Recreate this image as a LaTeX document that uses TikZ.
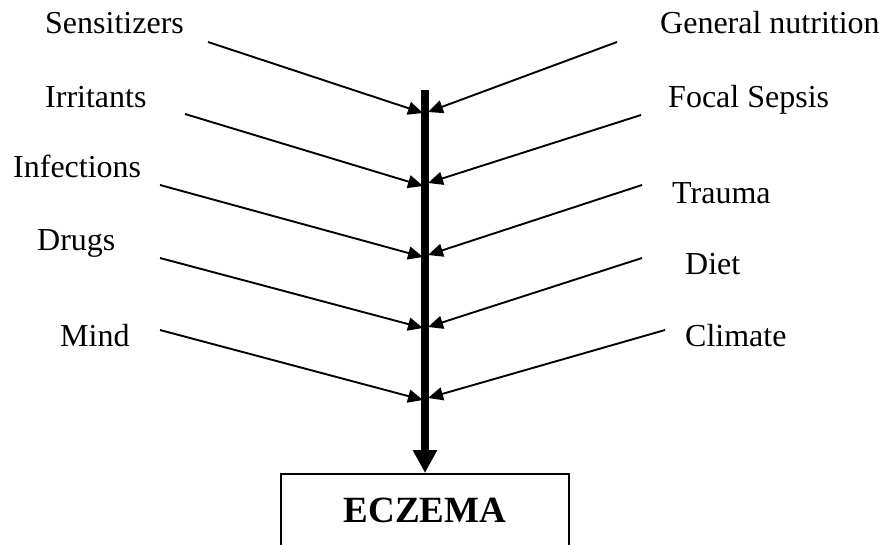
\documentclass[tikz,border=0pt]{standalone}
\usepackage{fontspec}
\setmainfont{Liberation Serif}
\usetikzlibrary{arrows.meta}
\begin{document}
\begin{tikzpicture}[x=1pt,y=-1pt,
  lbl/.style={anchor=base west,inner sep=0pt,font=\fontsize{32}{37}\selectfont},
  feed/.style={line width=1.9pt,-{Triangle[length=15pt,width=13pt]}},
  spine/.style={line width=8.5pt,-{Triangle[length=23pt,width=23pt]}},
  outbox/.style={draw,line width=1.6pt,minimum width=288pt,minimum height=74pt,inner sep=0pt,font=\fontsize{37}{42}\selectfont\bfseries}]
\useasboundingbox (0,0) rectangle (883,544);
% labels
\node[lbl] (sens) at (45,33) {Sensitizers};
\node[lbl] (irr) at (45,107) {Irritants};
\node[lbl] (inf) at (13,177) {Infections};
\node[lbl] (drug) at (37,250) {Drugs};
\node[lbl] (mind) at (60,346) {Mind};
\node[lbl] (gen) at (660,33) {General nutrition};
\node[lbl] (foc) at (668,107) {Focal Sepsis};
\node[lbl] (trau) at (672,203) {Trauma};
\node[lbl] (diet) at (685,274) {Diet};
\node[lbl] (clim) at (685,346) {Climate};
% box
\node[outbox,anchor=north] (ecz) at (425,473) {ECZEMA};
% spine
\coordinate (top) at (425,90);
\draw[spine] (top) -- (ecz.north);
% arrow start points
\coordinate (s1) at (208,42);
\coordinate (s2) at (185,114);
\coordinate (s3) at (160,185);
\coordinate (s4) at (160,258);
\coordinate (s5) at (160,330);
\coordinate (r1) at (617,42);
\coordinate (r2) at (641,115);
\coordinate (r3) at (642,185);
\coordinate (r4) at (642,258);
\coordinate (r5) at (665,330);
% tips on the spine
\coordinate (l1) at (423,113);
\coordinate (l2) at (423,186);
\coordinate (l3) at (423,257);
\coordinate (l4) at (423,328);
\coordinate (l5) at (423,400);
\coordinate (t1) at (428,112);
\coordinate (t2) at (428,183);
\coordinate (t3) at (428,255);
\coordinate (t4) at (428,327);
\coordinate (t5) at (428,398);
\foreach \i in {1,...,5}{
  \draw[feed] (s\i) -- (l\i);
  \draw[feed] (r\i) -- (t\i);
}
\end{tikzpicture}
\end{document}
